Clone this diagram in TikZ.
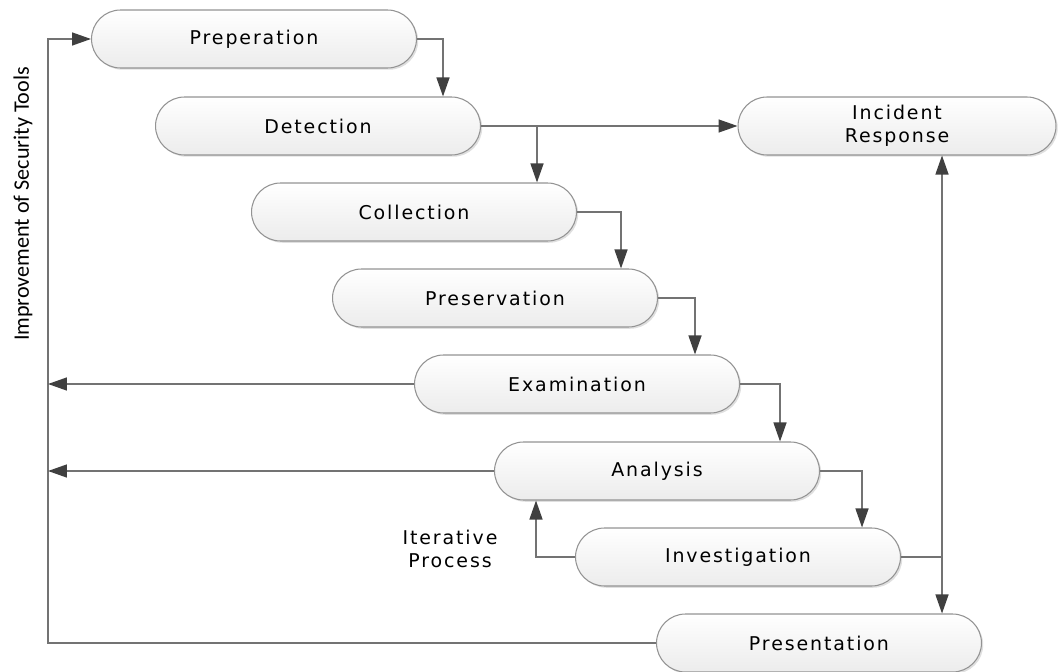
\documentclass[tikz,border=0pt]{standalone}
\usepackage{fontspec}
\setmainfont{DejaVu Sans}[LetterSpace=10]
\newfontfamily\sidefont{Carlito}
\usetikzlibrary{arrows.meta,shadows}

\begin{document}
\begin{tikzpicture}[x=0.02cm, y=-0.02cm,
        >={Triangle[length=0.38cm,width=0.26cm,color=black!75]},
        phase/.style={draw=gray!85, line width=0.6pt, rounded corners=0.58cm,
            top color=white, bottom color=gray!15,
            minimum width=6.5cm, minimum height=1.16cm,
            font=\fontsize{10.8}{13}\selectfont,
            drop shadow={opacity=0.25,shadow xshift=1pt,shadow yshift=-1pt}},
        flow/.style={draw=black!55, line width=0.8pt}]
        \useasboundingbox (0,0) rectangle (1058,672);
        \node[phase] (prep) at (254,39) {Preperation};
        \node[phase] (det) at (318,126) {Detection};
        \node[phase, minimum width=6.36cm, align=center] (ir) at (897,126) {Incident\\Response};
        \node[phase] (coll) at (414,212) {Collection};
        \node[phase] (pres) at (495,298) {Preservation};
        \node[phase] (exam) at (577,384) {Examination};
        \node[phase] (ana) at (657,471) {Analysis};
        \node[phase] (inv) at (738,557) {Investigation};
        \node[phase] (show) at (819,643) {Presentation};
        \node[rotate=90, font=\sidefont\fontsize{12.6}{15}\selectfont] (side) at (23,204) {Improvement of Security Tools};
        \node[align=center, font=\fontsize{10.8}{13}\selectfont] (iter) at (450,549) {Iterative\\Process};
        % main flow
        \draw[flow,->] (prep.east) -| ([xshift=-0.76cm]det.north east);
        \draw[flow,->] (det.east) -- (ir.west);
        \draw[flow,->] (det.east) -| ([xshift=-0.8cm]coll.north east);
        \draw[flow,->] (coll.east) -| ([xshift=-0.74cm]pres.north east);
        \draw[flow,->] (pres.east) -| ([xshift=-0.9cm]exam.north east);
        \draw[flow,->] (exam.east) -| ([xshift=-0.8cm]ana.north east);
        \draw[flow,->] (ana.east) -| ([xshift=-0.78cm]inv.north east);
        \draw[flow,->] (inv.west) -| ([xshift=0.84cm]ana.south west);
        \coordinate (rj) at ([xshift=-0.8cm]show.north east);
        \draw[flow,->] (inv.east) -| (rj);
        \draw[flow,->] (inv.east -| rj) -- (rj |- ir.south);
        % feedback to preparation
        \coordinate (fb) at (48,39);
        \draw[flow,->] (show.west) -| (fb) -- (prep.west);
        \draw[flow,->] (exam.west) -- (exam.west -| fb);
        \draw[flow,->] (ana.west) -- (ana.west -| fb);
\end{tikzpicture}
\end{document}
